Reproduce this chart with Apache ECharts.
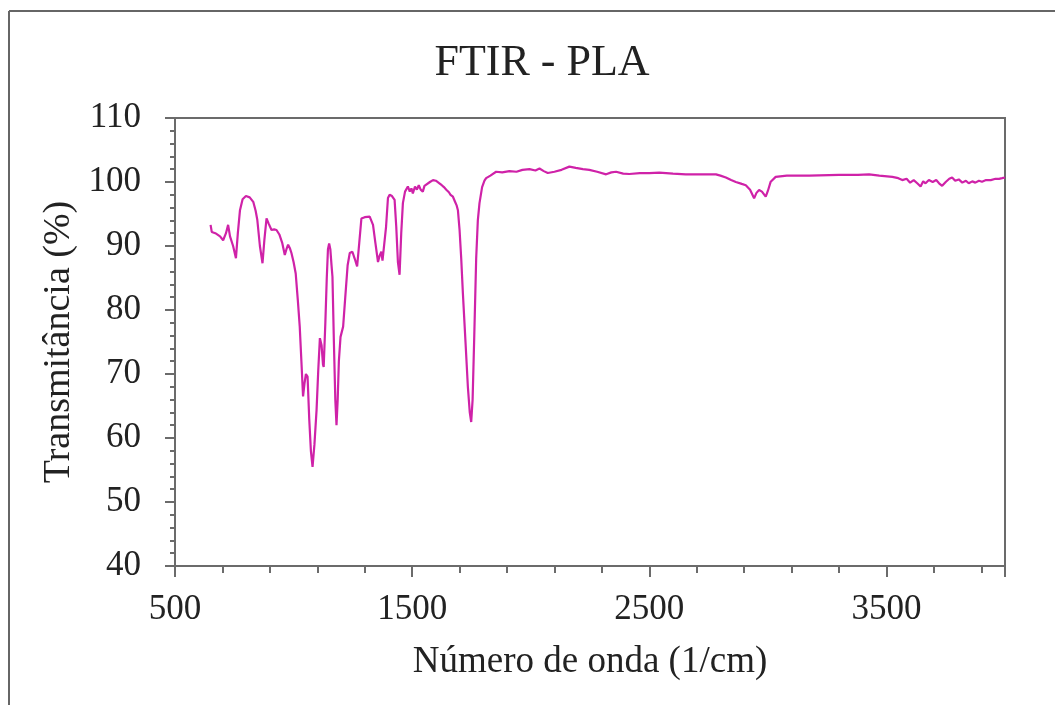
<!DOCTYPE html>
<html>
<head>
<meta charset="utf-8">
<script src="https://cdn.jsdelivr.net/npm/echarts@6/dist/echarts.min.js"></script>
<style>
  html, body { margin: 0; padding: 0; background: #fff; }
  #ftir { width: 1055px; height: 705px; }
</style>
</head>
<body>
<div id="ftir"></div>
<script>
// espectro (numero de onda em 1/cm, transmitancia em %)
var numeroOnda = [
  650, 655, 670, 690, 703, 715, 724, 732, 745, 757, 765, 774, 785, 799, 815, 830, 840, 847, 858, 869,
  877, 886, 895, 907, 918, 928, 940, 952, 963, 970, 977, 985, 991, 1000, 1009, 1018, 1026, 1033, 1040, 1046,
  1052, 1059, 1066, 1073, 1080, 1088, 1097, 1104, 1111, 1118, 1124, 1127, 1134, 1140, 1145, 1150, 1155, 1160, 1164, 1170,
  1176, 1181, 1186, 1191, 1198, 1209, 1218, 1228, 1237, 1248, 1258, 1268, 1277, 1286, 1300, 1321, 1335, 1345, 1356, 1363,
  1370, 1375, 1380, 1390, 1398, 1405, 1415, 1426, 1433, 1440, 1447, 1454, 1461, 1470, 1482, 1490, 1497, 1503, 1512, 1520,
  1528, 1536, 1545, 1552, 1560, 1575, 1588, 1600, 1615, 1625, 1634, 1644, 1655, 1662, 1672, 1680, 1688, 1693, 1700, 1707,
  1714, 1725, 1735, 1743, 1749, 1755, 1762, 1770, 1777, 1784, 1795, 1805, 1812, 1830, 1854, 1880, 1910, 1940, 1965, 1995,
  2020, 2037, 2055, 2072, 2100, 2130, 2163, 2190, 2220, 2247, 2280, 2318, 2340, 2360, 2390, 2416, 2460, 2500, 2542, 2600,
  2654, 2720, 2781, 2800, 2823, 2845, 2865, 2890, 2907, 2925, 2942, 2952, 2963, 2975, 2991, 3000, 3012, 3033, 3080, 3130,
  3174, 3216, 3300, 3380, 3427, 3470, 3525, 3550, 3567, 3585, 3600, 3615, 3630, 3644, 3655, 3665, 3679, 3695, 3710, 3722,
  3735, 3750, 3765, 3777, 3790, 3805, 3820, 3835, 3847, 3862, 3875, 3890, 3903, 3920, 3940, 3960, 3975, 3988, 4000
];
var transmitancia = [
  93.3, 92.2, 92.0, 91.5, 90.9, 92.0, 93.3, 91.5, 90.0, 88.1, 92.0, 95.6, 97.3, 97.8, 97.6, 96.9, 95.5, 94.1, 90.0, 87.3,
  91.0, 94.3, 93.5, 92.5, 92.6, 92.5, 91.8, 90.5, 88.6, 89.5, 90.2, 89.6, 88.9, 87.5, 85.7, 81.5, 77.4, 72.0, 66.5, 68.5,
  70.0, 69.6, 63.0, 58.0, 55.5, 59.0, 64.4, 70.5, 75.6, 74.5, 71.5, 71.1, 78.0, 85.0, 89.5, 90.4, 89.5, 87.0, 85.2, 75.0,
  66.0, 62.0, 66.0, 72.0, 75.8, 77.4, 82.0, 87.0, 88.9, 89.1, 88.0, 86.8, 90.5, 94.3, 94.5, 94.6, 93.3, 90.5, 87.5, 88.5,
  89.1, 87.7, 87.5, 93.0, 97.5, 98.0, 97.8, 97.2, 93.0, 87.5, 85.5, 92.0, 96.7, 98.5, 99.3, 98.5, 99.0, 98.2, 99.3, 98.8,
  99.5, 98.8, 98.5, 99.4, 99.5, 100.0, 100.3, 100.2, 99.8, 99.5, 99.2, 98.8, 98.4, 98.0, 97.7, 97.0, 96.3, 95.6, 92.5, 88.0,
  82.6, 75.0, 68.0, 64.0, 62.5, 66.0, 76.0, 88.0, 94.0, 96.7, 99.2, 100.2, 100.6, 101.0, 101.6, 101.5, 101.7, 101.6, 101.9, 102.0,
  101.8, 102.1, 101.7, 101.4, 101.6, 101.9, 102.4, 102.2, 102.0, 101.9, 101.6, 101.2, 101.5, 101.6, 101.3, 101.25, 101.4, 101.4, 101.45, 101.3,
  101.2, 101.2, 101.2, 101.0, 100.7, 100.3, 100.0, 99.7, 99.5, 98.8, 97.45, 98.3, 98.75, 98.5, 97.7, 98.6, 100.05, 100.8, 101.0, 101.0,
  101.0, 101.05, 101.1, 101.1, 101.2, 101.0, 100.8, 100.6, 100.3, 100.5, 99.9, 100.3, 99.8, 99.3, 100.1, 99.8, 100.3, 100.0, 100.3, 99.8,
  99.4, 100.0, 100.5, 100.7, 100.2, 100.4, 99.9, 100.2, 99.8, 100.1, 99.9, 100.2, 100.05, 100.3, 100.3, 100.5, 100.5, 100.6, 100.7
];

var fonte = "'Liberation Serif', 'Times New Roman', serif";
var corEixo = '#6b6b6b';

var chartDom = document.getElementById('ftir');
var myChart = echarts.init(chartDom);

var pontos = numeroOnda.map(function (x, i) {
  return [x, transmitancia[i]];
});

var option = {
  animation: false,
  backgroundColor: '#fff',
  title: {
    text: 'FTIR - PLA',
    left: 537,
    top: 36,
    textAlign: 'center',
    textStyle: { fontFamily: fonte, fontSize: 44, fontWeight: 'normal', color: '#222' }
  },
  grid: {
    left: 175, right: 50, top: 118, bottom: 139,
    show: true, borderColor: corEixo, borderWidth: 2
  },
  xAxis: {
    type: 'value',
    min: 500, max: 4000, interval: 1000,
    name: 'Número de onda (1/cm)',
    nameLocation: 'middle',
    nameGap: 78,
    nameTextStyle: { fontFamily: fonte, fontSize: 37, color: '#222' },
    axisLine: { lineStyle: { color: corEixo, width: 2 } },
    axisTick: { length: 11, lineStyle: { color: corEixo, width: 2 } },
    minorTick: { show: true, splitNumber: 5, length: 7, lineStyle: { color: corEixo, width: 2 } },
    axisLabel: {
      fontFamily: fonte, fontSize: 35, color: '#222', margin: 26, showMaxLabel: false,
      formatter: function (v) { return String(v); }
    },
    splitLine: { show: false }
  },
  yAxis: {
    type: 'value',
    min: 40, max: 110, interval: 10,
    name: 'Transmitância (%)',
    nameLocation: 'middle',
    nameGap: 89,
    nameTextStyle: { fontFamily: fonte, fontSize: 38, color: '#222' },
    axisLine: { lineStyle: { color: corEixo, width: 2 } },
    axisTick: { length: 10, lineStyle: { color: corEixo, width: 2 } },
    minorTick: { show: true, splitNumber: 5, length: 5, lineStyle: { color: corEixo, width: 2 } },
    axisLabel: { fontFamily: fonte, fontSize: 35, color: '#222', margin: 34 },
    splitLine: { show: false }
  },
  graphic: [
    { type: 'line', shape: { x1: 9, y1: 11, x2: 9, y2: 705 }, style: { stroke: '#666', lineWidth: 2 } },
    { type: 'line', shape: { x1: 9, y1: 11, x2: 1055, y2: 11 }, style: { stroke: '#666', lineWidth: 2 } }
  ],
  series: [
    {
      type: 'line',
      data: pontos,
      showSymbol: false,
      lineStyle: { color: '#CF22A8', width: 2.2 },
      itemStyle: { color: '#CF22A8' }
    }
  ]
};

option && myChart.setOption(option);

window.addEventListener('resize', function () {
  myChart.resize();
});
</script>
</body>
</html>
